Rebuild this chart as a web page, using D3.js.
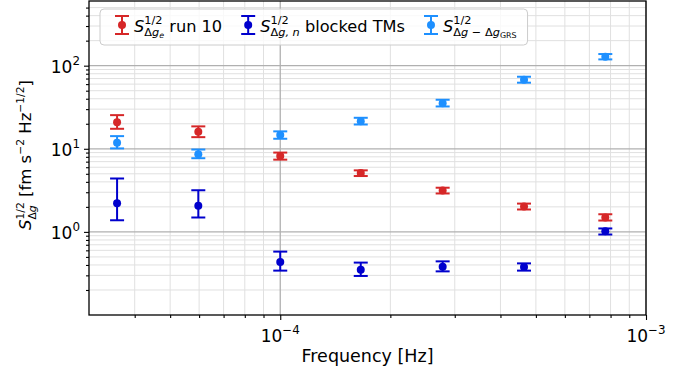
<!DOCTYPE html>
<html>
<head>
<meta charset="utf-8">
<script src="https://cdn.jsdelivr.net/npm/d3@7"></script>
<style>
  body { margin: 0; background: #ffffff; }
  svg { display: block; font-family: "DejaVu Sans", sans-serif; }
</style>
</head>
<body>
<div id="chart"></div>
<script>
// ---- data ----
var freqs     = [3.58e-5, 5.97e-5, 1.0e-4, 1.66e-4, 2.78e-4, 4.64e-4, 7.74e-4];

var run10     = [20.9, 16.0, 8.2, 5.1, 3.15, 2.02, 1.49];
var run10Lo   = [17.4, 13.8, 7.4, 4.7, 2.9, 1.86, 1.37];
var run10Hi   = [25.4, 18.6, 9.0, 5.5, 3.4, 2.19, 1.63];

var blocked   = [2.21, 2.07, 0.435, 0.351, 0.382, 0.379, 1.02];
var blockedLo = [1.38, 1.49, 0.342, 0.295, 0.335, 0.342, 0.93];
var blockedHi = [4.39, 3.17, 0.579, 0.427, 0.442, 0.418, 1.10];

var grs       = [11.8, 8.6, 14.7, 21.5, 35.4, 67.8, 128];
var grsLo     = [10.1, 7.7, 13.2, 19.6, 32.3, 62.4, 119];
var grsHi     = [14.2, 9.8, 16.2, 23.6, 38.9, 73.6, 138];

var xMajor = [1e-4, 1e-3];
var xMinor = [4e-5, 5e-5, 6e-5, 7e-5, 8e-5, 9e-5, 2e-4, 3e-4, 4e-4, 5e-4, 6e-4, 7e-4, 8e-4, 9e-4];
var xTickLabels = ["\u22124", "\u22123"];
var yMajor = [1, 10, 100];
var yMinor = [0.2, 0.3, 0.4, 0.5, 0.6, 0.7, 0.8, 0.9, 2, 3, 4, 5, 6, 7, 8, 9,
              20, 30, 40, 50, 60, 70, 80, 90, 200, 300, 400, 500];
var yTickLabels = ["0", "1", "2"];

// ---- layout ----
var width = 679, height = 376;
var plotL = 89, plotR = 646, plotT = 1, plotB = 315;
var tickFs = 17, labelFs = 17.5, yLabelFs = 16.5, legFs = 16.2;

var colRed = "#d62728", colBlue = "#0000cd", colLight = "#1e90ff";

var x = d3.scaleLog().domain([3e-5, 1e-3]).range([plotL, plotR]);
var y = d3.scaleLog().domain([0.1, 600]).range([plotB, plotT]);

var svg = d3.select("#chart").append("svg")
    .attr("width", width)
    .attr("height", height);

svg.append("rect").attr("width", width).attr("height", height).attr("fill", "#ffffff");

// draws "mathtext" made of small segments, measured one after another
function mathText(parent, px, py, segs, fs, anchor, rot) {
  var outer = parent.append("g")
      .attr("transform", "translate(" + px + "," + py + ")" + (rot ? " rotate(" + rot + ")" : ""));
  var g = outer.append("g");
  var cx = 0, supEnd = 0;
  segs.forEach(function(s) {
    var sc = s.sc || 1;
    var t = g.append("text")
        .attr("x", cx)
        .attr("y", (s.dy || 0) * fs)
        .attr("font-size", fs * sc)
        .attr("font-style", s.it ? "italic" : "normal")
        .attr("fill", "#000")
        .text(s.t);
    var w = t.node().getComputedTextLength();
    if (s.hold) { supEnd = cx + w; }
    else {
      cx += w;
      if (s.end) cx = Math.max(cx, supEnd);
    }
  });
  var shift = anchor === "end" ? -cx : anchor === "middle" ? -cx / 2 : 0;
  g.attr("transform", "translate(" + shift + ",0)");
  return cx;
}

// ---- grid ----
var grid = svg.append("g");
grid.selectAll(".xmin").data(xMinor).enter().append("line")
    .attr("x1", function(d) { return x(d); }).attr("x2", function(d) { return x(d); })
    .attr("y1", plotT).attr("y2", plotB)
    .attr("stroke", "#e0e0e0").attr("stroke-width", 1);
grid.selectAll(".ymin").data(yMinor).enter().append("line")
    .attr("y1", function(d) { return y(d); }).attr("y2", function(d) { return y(d); })
    .attr("x1", plotL).attr("x2", plotR)
    .attr("stroke", "#e0e0e0").attr("stroke-width", 1);
grid.selectAll(".xmaj").data(xMajor).enter().append("line")
    .attr("x1", function(d) { return x(d); }).attr("x2", function(d) { return x(d); })
    .attr("y1", plotT).attr("y2", plotB)
    .attr("stroke", "#b0b0b0").attr("stroke-width", 1.3);
grid.selectAll(".ymaj").data(yMajor).enter().append("line")
    .attr("y1", function(d) { return y(d); }).attr("y2", function(d) { return y(d); })
    .attr("x1", plotL).attr("x2", plotR)
    .attr("stroke", "#b0b0b0").attr("stroke-width", 1.3);

// ---- error bars ----
function errorSeries(vals, lo, hi, color) {
  var g = svg.append("g");
  var rows = freqs.map(function(f, i) { return { f: f, v: vals[i], lo: lo[i], hi: hi[i] }; });
  var e = g.selectAll("g").data(rows).enter().append("g");
  e.append("line")
      .attr("x1", function(d) { return x(d.f); }).attr("x2", function(d) { return x(d.f); })
      .attr("y1", function(d) { return y(d.lo); }).attr("y2", function(d) { return y(d.hi); })
      .attr("stroke", color).attr("stroke-width", 2);
  [ "lo", "hi" ].forEach(function(k) {
    e.append("line")
        .attr("x1", function(d) { return x(d.f) - 7; }).attr("x2", function(d) { return x(d.f) + 7; })
        .attr("y1", function(d) { return y(d[k]); }).attr("y2", function(d) { return y(d[k]); })
        .attr("stroke", color).attr("stroke-width", 2);
  });
  e.append("circle")
      .attr("cx", function(d) { return x(d.f); })
      .attr("cy", function(d) { return y(d.v); })
      .attr("r", 4)
      .attr("fill", color);
}
errorSeries(run10, run10Lo, run10Hi, colRed);
errorSeries(blocked, blockedLo, blockedHi, colBlue);
errorSeries(grs, grsLo, grsHi, colLight);

// ---- axes ----
var xAxisMaj = d3.axisBottom(x).tickValues(xMajor).tickSize(5).tickFormat("");
var xAxisMin = d3.axisBottom(x).tickValues(xMinor).tickSize(3).tickFormat("");
var yAxisMaj = d3.axisLeft(y).tickValues(yMajor).tickSize(5).tickFormat("");
var yAxisMin = d3.axisLeft(y).tickValues(yMinor).tickSize(3).tickFormat("");

[xAxisMaj, xAxisMin].forEach(function(a) {
  svg.append("g").attr("transform", "translate(0," + plotB + ")").call(a)
     .call(function(g) { g.select(".domain").remove(); })
     .selectAll("line").attr("stroke", "#000").attr("stroke-width", 1.1);
});
[yAxisMaj, yAxisMin].forEach(function(a) {
  svg.append("g").attr("transform", "translate(" + plotL + ",0)").call(a)
     .call(function(g) { g.select(".domain").remove(); })
     .selectAll("line").attr("stroke", "#000").attr("stroke-width", 1.1);
});

// frame
svg.append("rect")
    .attr("x", plotL).attr("y", plotT)
    .attr("width", plotR - plotL).attr("height", plotB - plotT)
    .attr("fill", "none").attr("stroke", "#000").attr("stroke-width", 1.3);

// tick labels
xMajor.forEach(function(v, i) {
  mathText(svg, x(v), 342, [
    { t: "10" },
    { t: xTickLabels[i], sc: 0.7, dy: -0.45 }
  ], tickFs, "middle");
});
yMajor.forEach(function(v, i) {
  mathText(svg, 80, y(v) + 7, [
    { t: "10" },
    { t: yTickLabels[i], sc: 0.7, dy: -0.45 }
  ], tickFs, "end");
});

// axis titles
mathText(svg, (plotL + plotR) / 2, 362, [{ t: "Frequency [Hz]" }], labelFs, "middle");
mathText(svg, 31, 155, [
  { t: "S", it: true },
  { t: "1/2", sc: 0.65, dy: -0.45, hold: true },
  { t: "\u0394", sc: 0.65, dy: 0.3 },
  { t: "g", sc: 0.65, dy: 0.3, it: true, end: true },
  { t: "\u00a0[fm s" },
  { t: "\u22122", sc: 0.65, dy: -0.45 },
  { t: "\u00a0Hz" },
  { t: "\u22121/2", sc: 0.65, dy: -0.45 },
  { t: "]" }
], yLabelFs, "middle", -90);

// ---- legend ----
var legend = svg.append("g");
var legBox = legend.append("rect")
    .attr("x", 100).attr("y", 9).attr("height", 36).attr("rx", 4)
    .attr("fill", "#ffffff").attr("fill-opacity", 0.8)
    .attr("stroke", "#cccccc").attr("stroke-width", 1);

var legItems = [
  { color: colRed, segs: [
    { t: "S", it: true },
    { t: "1/2", sc: 0.7, dy: -0.45, hold: true },
    { t: "\u0394", sc: 0.7, dy: 0.3 },
    { t: "g", sc: 0.7, dy: 0.3, it: true },
    { t: "e", sc: 0.49, dy: 0.42, it: true, end: true },
    { t: "\u00a0run 10" } ] },
  { color: colBlue, segs: [
    { t: "S", it: true },
    { t: "1/2", sc: 0.7, dy: -0.45, hold: true },
    { t: "\u0394", sc: 0.7, dy: 0.3 },
    { t: "g, n", sc: 0.7, dy: 0.3, it: true, end: true },
    { t: "\u00a0blocked TMs" } ] },
  { color: colLight, segs: [
    { t: "S", it: true },
    { t: "1/2", sc: 0.7, dy: -0.45, hold: true },
    { t: "\u0394", sc: 0.7, dy: 0.3 },
    { t: "g", sc: 0.7, dy: 0.3, it: true },
    { t: "\u00a0\u2212\u00a0\u0394", sc: 0.7, dy: 0.3 },
    { t: "g", sc: 0.7, dy: 0.3, it: true },
    { t: "GRS", sc: 0.49, dy: 0.42, end: true } ] }
];

var lx = 100 + 22;
legItems.forEach(function(it) {
  var m = legend.append("g");
  m.append("line").attr("x1", lx).attr("x2", lx).attr("y1", 16).attr("y2", 34)
      .attr("stroke", it.color).attr("stroke-width", 2);
  [16, 34].forEach(function(yy) {
    m.append("line").attr("x1", lx - 7).attr("x2", lx + 7).attr("y1", yy).attr("y2", yy)
        .attr("stroke", it.color).attr("stroke-width", 2);
  });
  m.append("circle").attr("cx", lx).attr("cy", 25).attr("r", 4).attr("fill", it.color);
  var w = mathText(legend, lx + 12, 31.5, it.segs, legFs, "start");
  lx = lx + 12 + w + 26;
});
legBox.attr("width", lx - 26 + 11 - 100);
</script>
</body>
</html>
